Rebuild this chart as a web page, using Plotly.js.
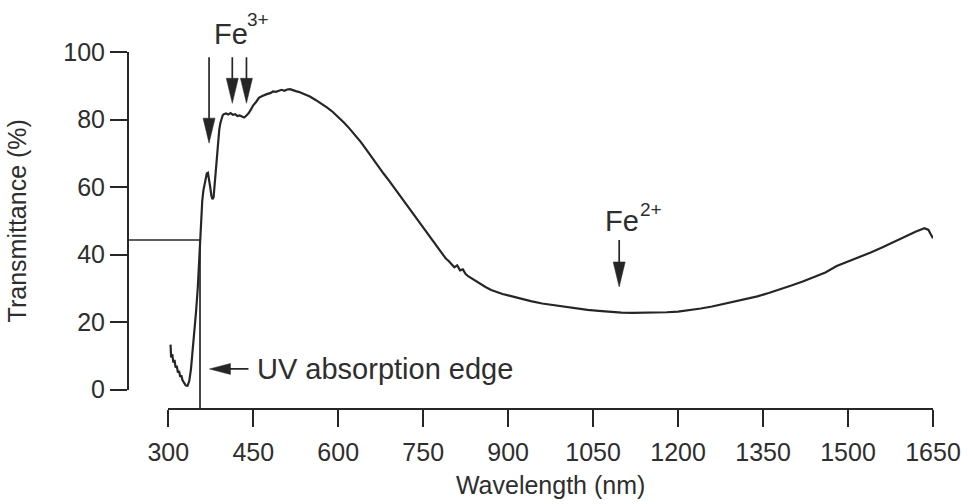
<!DOCTYPE html>
<html>
<head>
<meta charset="utf-8">
<script src="https://cdn.plot.ly/plotly-3.0.1.min.js"></script>
<style>html,body{margin:0;padding:0;background:#fff;}#chart{width:968px;height:504px;}</style>
</head>
<body>
<div id="chart"></div>
<script>
// Spectrum: wavelength (nm) and transmittance (%)
var wavelength = [304,305,307,309,311,313,315,317,319,321,323,325,328,331,334,337,340,343,346,349,352,354,356,358,360,362,364,366,368,370,372,374,376,378,380,382,384,386,388,390,392,394,396,398,402,406,410,414,418,422,426,430,434,438,442,446,450,455,460,465,470,475,480,485,490,495,500,505,510,515,520,525,530,535,540,550,560,570,580,590,600,610,620,630,640,650,660,670,680,690,700,710,720,730,740,750,760,770,775,780,785,790,795,800,805,810,815,820,825,830,840,850,860,870,880,890,900,920,940,960,980,1000,1020,1040,1060,1080,1100,1120,1140,1160,1180,1200,1220,1240,1260,1280,1300,1320,1340,1360,1380,1400,1420,1440,1460,1480,1500,1520,1540,1560,1580,1600,1620,1635,1642,1646,1650];
var transmittance = [13.3,9.5,10.5,8.0,8.8,6.5,7.0,5.0,5.5,3.8,4.2,2.8,2.0,1.2,1.1,2.5,6.0,11.0,17.0,23.0,30.0,37.0,44.0,51.0,56.0,59.0,61.0,63.0,64.0,64.2,62.5,60.0,57.5,56.4,57.0,61.0,66.0,70.0,74.0,77.0,79.0,80.5,81.2,81.6,81.8,81.5,81.9,81.4,81.6,81.0,81.2,80.9,80.6,81.2,81.9,83.0,84.2,85.2,86.4,86.9,87.3,87.6,87.8,88.3,88.2,88.6,88.8,88.5,88.9,89.0,88.6,88.4,88.2,87.9,87.5,86.8,85.8,84.8,83.6,82.3,80.8,79.1,77.3,75.4,73.3,71.0,68.6,66.3,64.0,61.8,59.5,57.2,55.0,52.7,50.4,48.0,45.6,43.4,42.3,41.0,39.9,38.8,38.1,37.3,36.2,36.8,35.3,35.6,34.2,33.5,32.4,31.3,30.4,29.5,28.8,28.3,27.9,27.0,26.2,25.5,25.0,24.5,24.0,23.6,23.3,23.0,22.8,22.7,22.7,22.8,22.9,23.1,23.5,24.0,24.6,25.3,26.0,26.8,27.6,28.6,29.6,30.8,32.0,33.4,34.7,36.6,37.9,39.2,40.6,42.1,43.7,45.4,46.8,47.8,47.3,46.0,44.8];

var xTicks = [300,450,600,750,900,1050,1200,1350,1500,1650];
var yTicks = [0,20,40,60,80,100];

// Annotated features
var fe3Bands = [372, 413, 438];     // Fe3+ band wavelengths (nm)
var fe3Tips = [73.0, 84.8, 84.8];   // arrow tip transmittance
var fe2Band = [1096];
var fe2Tip = [30.4];
var uvEdgeX = 356;   // nm
var uvEdgeT = 44.3;  // %

var xRange = [300, 1650], yRange = [0, 100];
var xDom = [0.05004, 1], yDom = [0.0545, 1];
function px(v){ return xDom[0] + (v - xRange[0]) / (xRange[1] - xRange[0]) * (xDom[1] - xDom[0]); }
function py(v){ return yDom[0] + (v - yRange[0]) / (yRange[1] - yRange[0]) * (yDom[1] - yDom[0]); }

var ink = '#262626';
var txt = '#2e2e2e';
var font = 'Liberation Sans, Arial, sans-serif';

var shapes = [];
function downArrow(x, tip, shaftPx){
  shapes.push({type:'path', xref:'x', yref:'y', xsizemode:'pixel', ysizemode:'pixel', xanchor:x, yanchor:tip,
    path:'M0,20 L0,' + shaftPx, line:{color:ink, width:1.7}});
  shapes.push({type:'path', xref:'x', yref:'y', xsizemode:'pixel', ysizemode:'pixel', xanchor:x, yanchor:tip,
    path:'M0,0 L-6,25 L6,25 Z', fillcolor:ink, line:{color:ink, width:0.5}});
}
var shaftLens = [86, 46, 46];
fe3Bands.forEach(function(b,i){ downArrow(b, fe3Tips[i], shaftLens[i]); });
fe2Band.forEach(function(b,i){ downArrow(b, fe2Tip[i], 47); });

// UV absorption edge lines
shapes.push({type:'line', xref:'paper', yref:'paper', x0:0, x1:px(uvEdgeX), y0:py(uvEdgeT), y1:py(uvEdgeT), line:{color:ink, width:1.7}});
shapes.push({type:'line', xref:'paper', yref:'paper', x0:px(uvEdgeX), x1:px(uvEdgeX), y0:0, y1:py(uvEdgeT), line:{color:ink, width:1.7}});
// UV arrow (pointing left)
var uvArrowX = 372.7, uvArrowT = 6.1;
shapes.push({type:'path', xref:'x', yref:'y', xsizemode:'pixel', ysizemode:'pixel', xanchor:uvArrowX, yanchor:uvArrowT,
  path:'M15,0 L39,0', line:{color:ink, width:1.7}});
shapes.push({type:'path', xref:'x', yref:'y', xsizemode:'pixel', ysizemode:'pixel', xanchor:uvArrowX, yanchor:uvArrowT,
  path:'M0,0 L21,5.5 L21,-5.5 Z', fillcolor:ink, line:{color:ink, width:0.5}});

var trace = {
  x: wavelength, y: transmittance, type:'scatter', mode:'lines',
  line:{color:ink, width:2.2}, hoverinfo:'x+y', showlegend:false
};

var layout = {
  width:968, height:504,
  margin:{l:128, r:34.7, t:51.7, b:94.5},
  paper_bgcolor:'#fff', plot_bgcolor:'#fff',
  font:{family:font, color:txt, size:25},
  showlegend:false,
  xaxis:{
    range:xRange, domain:xDom, anchor:'free', position:0,
    tickmode:'array', tickvals:xTicks, ticktext:xTicks.map(String),
    ticks:'outside', ticklen:17, tickwidth:2, tickcolor:ink, ticklabelstandoff:4,
    showline:true, linecolor:ink, linewidth:2.2, showgrid:false, zeroline:false,
    tickfont:{size:25, color:txt},
    title:{text:'Wavelength (nm)', font:{size:25, color:txt}, standoff:10}
  },
  yaxis:{
    range:yRange, domain:yDom, anchor:'free', position:0,
    tickmode:'array', tickvals:yTicks, ticktext:yTicks.map(String),
    ticks:'outside', ticklen:17, tickwidth:2, tickcolor:ink,
    showline:true, linecolor:ink, linewidth:2.2, showgrid:false, zeroline:false,
    tickfont:{size:25, color:txt},
    title:{text:'Transmittance (%)', font:{size:25, color:txt}, standoff:28}
  },
  shapes: shapes,
  annotations:[
    {text:'Fe', xref:'x', yref:'paper', x:376.6, y:1.0495, xanchor:'left', yanchor:'middle', showarrow:false, font:{size:29, color:txt}},
    {text:'3+', xref:'x', yref:'paper', x:435.4, y:1.09, xanchor:'left', yanchor:'middle', showarrow:false, font:{size:19, color:txt}},
    {text:'Fe', xref:'x', yref:'y', x:1067.5, y:49.9, xanchor:'left', yanchor:'middle', showarrow:false, font:{size:29, color:txt}},
    {text:'2+', xref:'x', yref:'y', x:1129, y:53.2, xanchor:'left', yanchor:'middle', showarrow:false, font:{size:19, color:txt}},
    {text:'UV absorption edge', xref:'x', yref:'y', x:453, y:6.0, xanchor:'left', yanchor:'middle', showarrow:false, font:{size:29, color:txt}}
  ]
};

Plotly.newPlot('chart', [trace], layout, {staticPlot:true, displayModeBar:false});
</script>
</body>
</html>
